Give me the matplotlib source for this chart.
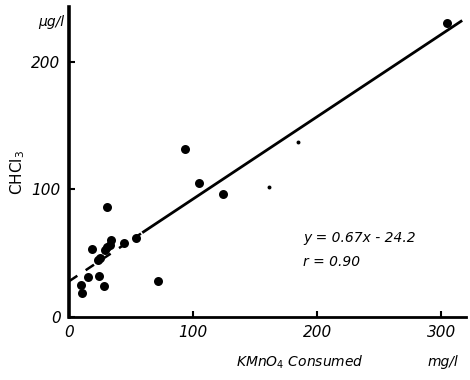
import matplotlib
matplotlib.use("Agg")
import matplotlib.pyplot as plt
import numpy as np

# Data
kmno4 = [304.8, 93.5, 104.8, 124.2, 30.9, 54.0, 44.4, 33.9, 33.1, 29.0, 30.4,
         25.0, 23.6, 18.3, 24.2, 15.6, 9.7, 10.2, 28.2, 71.5]
chcl3 = [230.8, 131.5, 104.9, 96.7, 86.0, 61.7, 57.8, 60.4, 56.5, 52.5, 55.2,
         46.3, 44.7, 53.1, 32.4, 31.1, 25.1, 18.6, 24.5, 28.5]
kmno4_faint = [184.7, 161.3]
chcl3_faint = [137.0, 102.2]

slope = 0.645
intercept = 28.0
x_dash = [0, 58]
x_solid = [60, 316]

xticks = [0, 100, 200, 300]
xticklabels = ["0", "100", "200", "300"]
yticks = [0, 100, 200]
yticklabels = ["0", "100", "200"]

fig = plt.figure(figsize=(4.7, 3.8), dpi=100)
ax = fig.add_axes([69/470, 63/380, (466-69)/470, (317-7)/380])
ax.set_xlim(0, 320)
ax.set_ylim(0, 243)

for s in ["top", "right"]:
    ax.spines[s].set_visible(False)
ax.spines["left"].set_linewidth(2.6)
ax.spines["bottom"].set_linewidth(2.0)

ax.scatter(kmno4, chcl3, s=42, color="black", zorder=3, linewidths=0)
ax.scatter(kmno4_faint, chcl3_faint, s=8, color="black", zorder=3, linewidths=0)

xd = np.array(x_dash)
xs = np.array(x_solid)
ax.plot(xd, slope*xd + intercept, color="black", lw=1.8, linestyle=(0, (4, 4)))
ax.plot(xs, slope*xs + intercept, color="black", lw=2.0)

ax.set_xticks(xticks)
ax.set_xticklabels(xticklabels, fontstyle="italic", fontsize=11)
ax.set_yticks(yticks)
ax.set_yticklabels(yticklabels, fontstyle="italic", fontsize=11)
ax.tick_params(direction="in", length=4, width=1.5, pad=6)

ax.text(18/470, 1-172/380, "CHCl$_3$", transform=fig.transFigure, rotation=90,
        fontsize=11, ha="center", va="center")
ax.text(64/470, 1-22/380, "μg/l", transform=fig.transFigure, rotation=0,
        fontsize=10, fontstyle="italic", ha="right", va="center")
ax.text(300/470, 1-362/380, "KMnO$_4$ Consumed", transform=fig.transFigure,
        fontsize=10, fontstyle="italic", ha="center", va="center")
ax.text(443/470, 1-362/380, "mg/l", transform=fig.transFigure,
        fontsize=10, fontstyle="italic", ha="center", va="center")

ax.text(303/470, 1-238/380, "y = 0.67x - 24.2", transform=fig.transFigure,
        fontsize=10, fontstyle="italic", ha="left", va="center")
ax.text(303/470, 1-262/380, "r = 0.90", transform=fig.transFigure,
        fontsize=10, fontstyle="italic", ha="left", va="center")

fig.savefig("out.png", dpi=100)
